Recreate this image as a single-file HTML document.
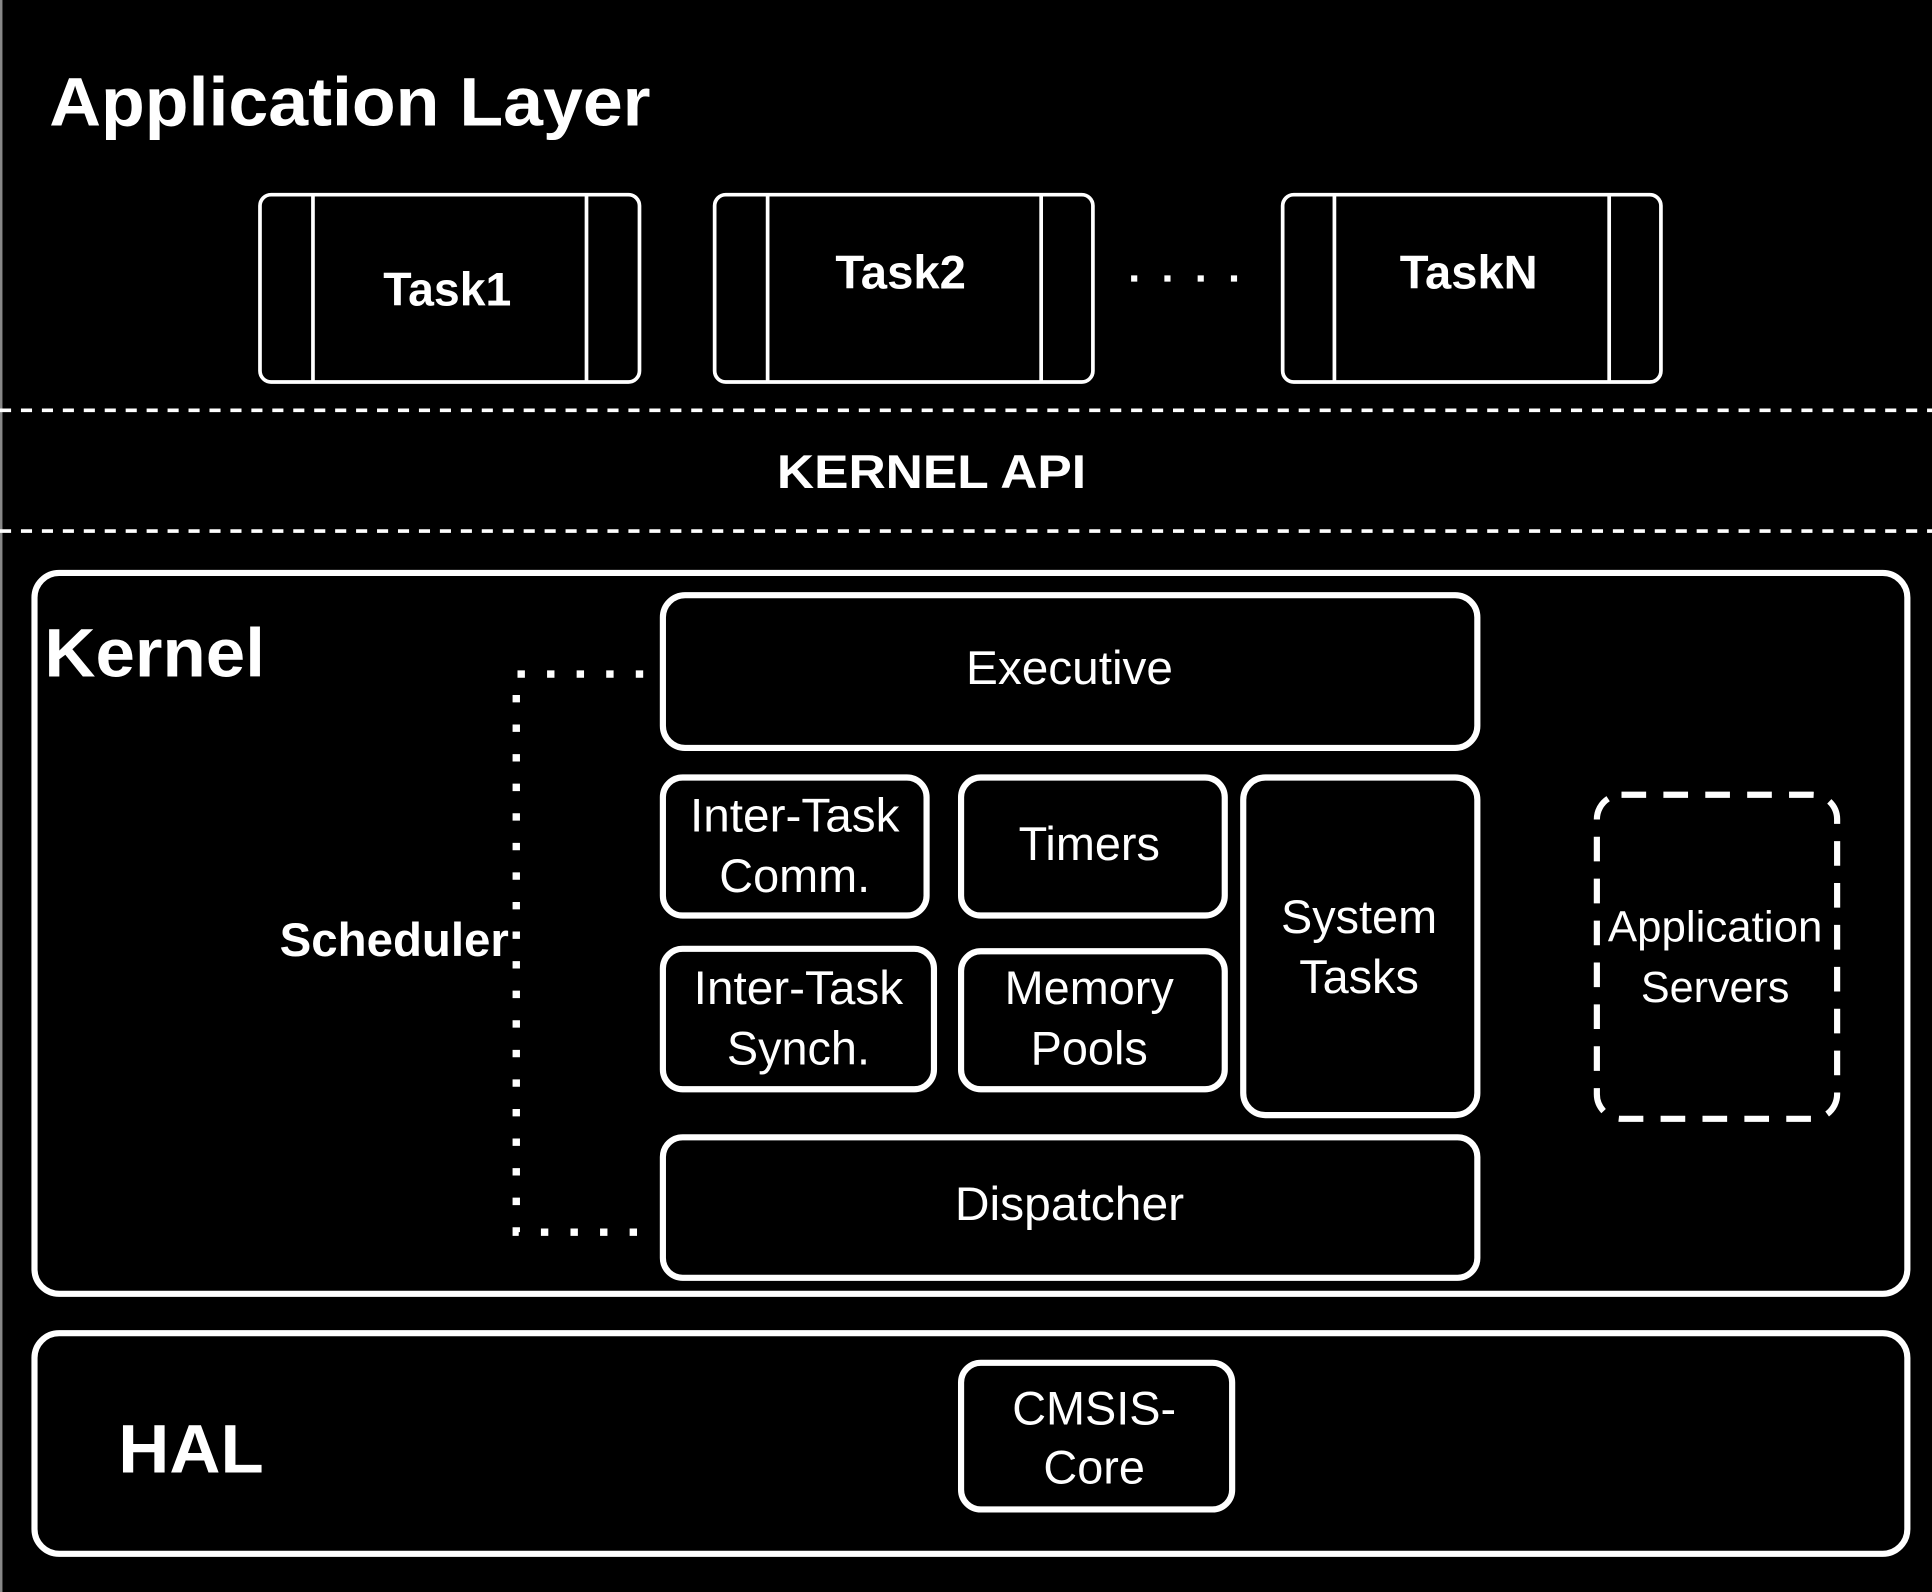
<!DOCTYPE html>
<html><head><meta charset="utf-8"><style>
html,body{margin:0;padding:0;background:#000;}
svg{display:block;}
text{font-family:"Liberation Sans",sans-serif;fill:#fff;}
</style></head><body>
<svg width="1932" height="1592" viewBox="0 0 1568 1292" xmlns="http://www.w3.org/2000/svg">
<rect x="0" y="0" width="1568" height="1292" fill="#000"/>
<line x1="1" y1="0" x2="1" y2="1292" stroke="#888" stroke-width="2"/>
<text x="40" y="102" font-size="56" font-weight="bold" textLength="488" lengthAdjust="spacingAndGlyphs">Application Layer</text>
<g fill="none" stroke="#fff" stroke-width="3">
<rect x="211" y="158" width="308" height="152" rx="9"/><line x1="254" y1="158" x2="254" y2="310"/><line x1="476" y1="158" x2="476" y2="310"/>
<rect x="580" y="158" width="307" height="152" rx="9"/><line x1="623" y1="158" x2="623" y2="310"/><line x1="845" y1="158" x2="845" y2="310"/>
<rect x="1041" y="158" width="307" height="152" rx="9"/><line x1="1083" y1="158" x2="1083" y2="310"/><line x1="1306" y1="158" x2="1306" y2="310"/>
</g>
<g font-size="38" font-weight="bold" text-anchor="middle">
<text x="363" y="248" textLength="104" lengthAdjust="spacingAndGlyphs">Task1</text>
<text x="731" y="234" textLength="106" lengthAdjust="spacingAndGlyphs">Task2</text>
<text x="1192" y="234" textLength="112" lengthAdjust="spacingAndGlyphs">TaskN</text>
<text x="756" y="396" textLength="251" lengthAdjust="spacingAndGlyphs">KERNEL API</text>
</g>
<line x1="918" y1="226" x2="1004" y2="226" stroke="#fff" stroke-width="5" stroke-dasharray="5,22"/>
<g stroke="#fff" stroke-width="3" stroke-dasharray="9,8">
<line x1="0" y1="333" x2="1568" y2="333"/><line x1="0" y1="431" x2="1568" y2="431"/>
</g>
<g fill="none" stroke="#fff" stroke-width="5">
<rect x="28" y="465" width="1520" height="585" rx="20"/>
<rect x="538" y="483" width="661" height="124" rx="18"/>
<rect x="538" y="631" width="214" height="112" rx="16"/>
<rect x="780" y="631" width="214" height="112" rx="16"/>
<rect x="1009" y="631" width="190" height="274" rx="18"/>
<rect x="538" y="770" width="220" height="114" rx="16"/>
<rect x="780" y="772" width="214" height="112" rx="16"/>
<rect x="538" y="923" width="661" height="114" rx="16"/>
<rect x="28" y="1082" width="1520" height="179" rx="20"/>
<rect x="780" y="1106" width="220" height="119" rx="16"/>
<rect x="1296" y="645" width="195" height="263" rx="20" stroke-dasharray="20,14"/>
<polyline points="522,547 419,547 419,1000 522,1000" stroke-width="6" stroke-dasharray="6,18"/>
</g>
<text x="36" y="549" font-size="56" font-weight="bold" textLength="179" lengthAdjust="spacingAndGlyphs">Kernel</text>
<text x="96" y="1195" font-size="56" font-weight="bold" textLength="118" lengthAdjust="spacingAndGlyphs">HAL</text>
<text x="227" y="776" font-size="38" font-weight="bold" textLength="186" lengthAdjust="spacingAndGlyphs">Scheduler</text>
<g font-size="38" text-anchor="middle">
<text x="868" y="555" textLength="168" lengthAdjust="spacingAndGlyphs">Executive</text>
<text x="645" y="675" textLength="170" lengthAdjust="spacingAndGlyphs">Inter-Task</text><text x="645" y="724">Comm.</text>
<text x="884" y="698">Timers</text>
<text x="1103" y="757">System</text><text x="1103" y="806">Tasks</text>
<text x="648" y="815" textLength="170" lengthAdjust="spacingAndGlyphs">Inter-Task</text><text x="648" y="864">Synch.</text>
<text x="884" y="815">Memory</text><text x="884" y="864">Pools</text>
<text x="868" y="990" textLength="186" lengthAdjust="spacingAndGlyphs">Dispatcher</text>
<text x="888" y="1156">CMSIS-</text><text x="888" y="1204">Core</text>
<text x="1392" y="764" font-size="35" textLength="174" lengthAdjust="spacingAndGlyphs">Application</text><text x="1392" y="813" font-size="35">Servers</text>
</g>
</svg>
</body></html>
